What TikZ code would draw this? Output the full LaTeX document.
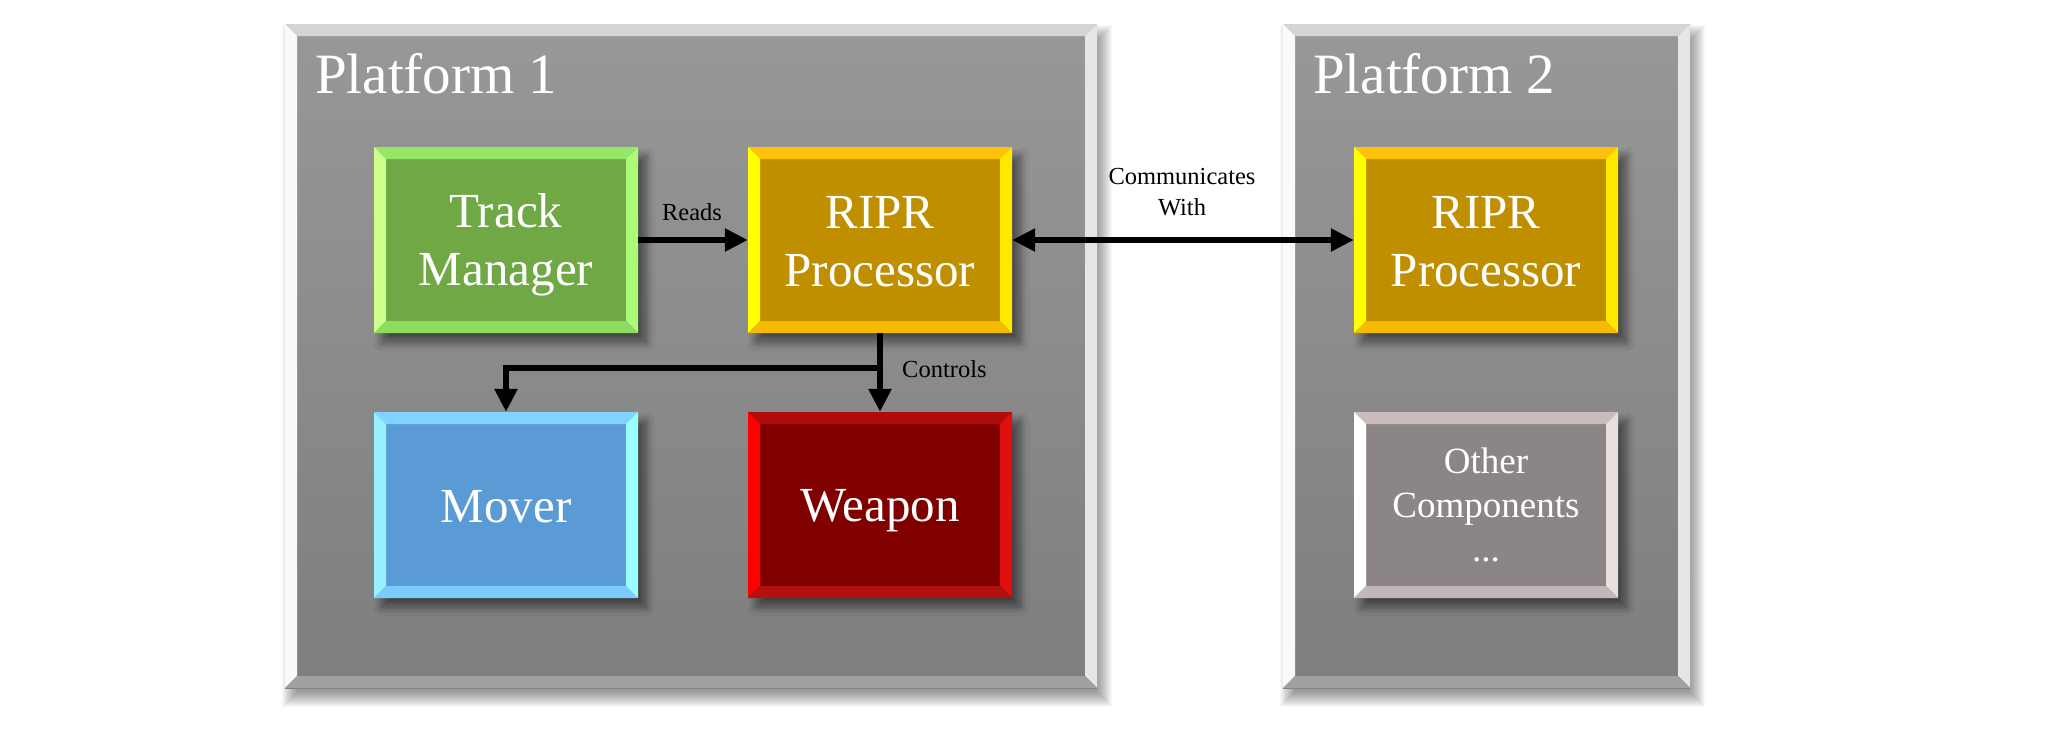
\documentclass[tikz,border=0pt]{standalone}
\usepackage{fontspec}
\setmainfont{Liberation Serif}
\usetikzlibrary{arrows.meta,shadows.blur}

\definecolor{pfA}{RGB}{152,152,152}
\definecolor{pfB}{RGB}{126,126,126}
\definecolor{pfT}{RGB}{212,212,212}
\definecolor{pfL}{RGB}{250,250,250}
\definecolor{pfR}{RGB}{230,230,230}
\definecolor{pfD}{RGB}{160,160,160}

\definecolor{gF}{RGB}{112,168,69}
\definecolor{gT}{RGB}{150,230,104}
\definecolor{gL}{RGB}{204,255,140}
\definecolor{gR}{RGB}{172,250,120}
\definecolor{gD}{RGB}{140,220,96}

\definecolor{yF}{RGB}{191,143,0}
\definecolor{yT}{RGB}{255,194,12}
\definecolor{yL}{RGB}{255,255,0}
\definecolor{yR}{RGB}{255,232,0}
\definecolor{yD}{RGB}{246,186,0}

\definecolor{bF}{RGB}{91,155,213}
\definecolor{bT}{RGB}{128,212,255}
\definecolor{bL}{RGB}{153,240,255}
\definecolor{bR}{RGB}{153,255,255}
\definecolor{bD}{RGB}{124,203,255}

\definecolor{rF}{RGB}{128,0,0}
\definecolor{rT}{RGB}{176,12,12}
\definecolor{rL}{RGB}{255,0,0}
\definecolor{rR}{RGB}{224,16,16}
\definecolor{rD}{RGB}{179,16,16}

\definecolor{oF}{RGB}{140,133,133}
\definecolor{oT}{RGB}{200,188,188}
\definecolor{oL}{RGB}{255,255,255}
\definecolor{oR}{RGB}{232,222,222}
\definecolor{oD}{RGB}{192,184,184}

\newcommand\bigstrut{\rule[-10pt]{0pt}{54pt}}
\newcommand\smallstrut{\rule[-9pt]{0pt}{42pt}}

\tikzset{
  bevelpic/.style n args={4}{path picture={
    \fill[#1] (path picture bounding box.north west) -- (path picture bounding box.north east)
      -- ([shift={(-12pt,-12pt)}]path picture bounding box.north east)
      -- ([shift={(12pt,-12pt)}]path picture bounding box.north west) -- cycle;
    \fill[#2] (path picture bounding box.north west) -- ([shift={(12pt,-12pt)}]path picture bounding box.north west)
      -- ([shift={(12pt,12pt)}]path picture bounding box.south west)
      -- (path picture bounding box.south west) -- cycle;
    \fill[#3] (path picture bounding box.north east) -- (path picture bounding box.south east)
      -- ([shift={(-12pt,12pt)}]path picture bounding box.south east)
      -- ([shift={(-12pt,-12pt)}]path picture bounding box.north east) -- cycle;
    \fill[#4] (path picture bounding box.south west) -- ([shift={(12pt,12pt)}]path picture bounding box.south west)
      -- ([shift={(-12pt,12pt)}]path picture bounding box.south east)
      -- (path picture bounding box.south east) -- cycle;
  }},
  compbox/.style={rectangle, inner sep=0pt, minimum width=264pt, minimum height=186pt,
    text=white, align=center, font=\fontsize{49}{58}\selectfont,
    blur shadow={shadow xshift=8pt, shadow yshift=-9pt, shadow blur radius=8pt, shadow blur steps=12, shadow opacity=50}},
  platform/.style={rectangle, inner sep=0pt, minimum height=664pt, top color=pfA, bottom color=pfB,
    bevelpic={pfT}{pfL}{pfR}{pfD}},
  softshade/.style={black, opacity=0.028},
  ptitle/.style={text=white, inner sep=0pt, font=\fontsize{57}{66}\selectfont},
  lbl/.style={text=black, inner sep=0pt, align=center, font=\fontsize{24.5}{31}\selectfont},
  arr/.style={line width=5.5pt, -{Triangle[length=23pt,width=22pt]}},
}

\begin{document}
\begin{tikzpicture}[x=1pt,y=-1pt]
\useasboundingbox (0,0) rectangle (2064,734);
\fill[white] (0,0) rectangle (2064,734);

% soft platform shadows
\foreach \i in {-6,...,9} {
  \fill[softshade] ({291-\i},{34-\i}) rectangle ({1103+\i},{698+\i});
  \fill[softshade] ({1289-\i},{34-\i}) rectangle ({1696+\i},{698+\i});
}

% platforms
\node[platform, minimum width=812pt] (p1) at (691,356) {};
\node[platform, minimum width=407pt] (p2) at (1486.5,356) {};
\node[ptitle, anchor=base west] (t1) at (315,93) {Platform 1};
\node[ptitle, anchor=base west] (t2) at (1313,93) {Platform 2};

% components
\node[compbox, fill=gF, bevelpic={gT}{gL}{gR}{gD}] (tm) at (506,240) {\bigstrut Track\\\bigstrut Manager};
\node[compbox, fill=yF, bevelpic={yT}{yL}{yR}{yD}] (rp1) at (880,240) {\bigstrut RIPR\\\bigstrut Processor};
\node[compbox, fill=bF, bevelpic={bT}{bL}{bR}{bD}] (mv) at (506,505) {\bigstrut Mover};
\node[compbox, fill=rF, bevelpic={rT}{rL}{rR}{rD}] (wp) at (880,505) {\bigstrut Weapon};
\node[compbox, fill=yF, bevelpic={yT}{yL}{yR}{yD}] (rp2) at (1486,240) {\bigstrut RIPR\\\bigstrut Processor};
\node[compbox, fill=oF, bevelpic={oT}{oL}{oR}{oD}, font=\fontsize{37}{44}\selectfont] (oc) at (1486,505) {\smallstrut Other\\\smallstrut Components\\\smallstrut ...};

% connectors
\draw[arr] (tm.east) -- (rp1.west);
\draw[arr, {Triangle[length=23pt,width=22pt]}-{Triangle[length=23pt,width=22pt]}] (rp1.east) -- (rp2.west);
\draw[arr] (rp1.south) -- (wp.north);
\draw[arr] (rp1.south) -- ++(0,35) -| (mv.north);

% labels
\node[lbl] (lr) at (692,212) {Reads};
\node[lbl] (lc) at (1182,192) {Communicates\\With};
\node[lbl, anchor=west] (lk) at (902,369) {Controls};
\end{tikzpicture}
\end{document}
